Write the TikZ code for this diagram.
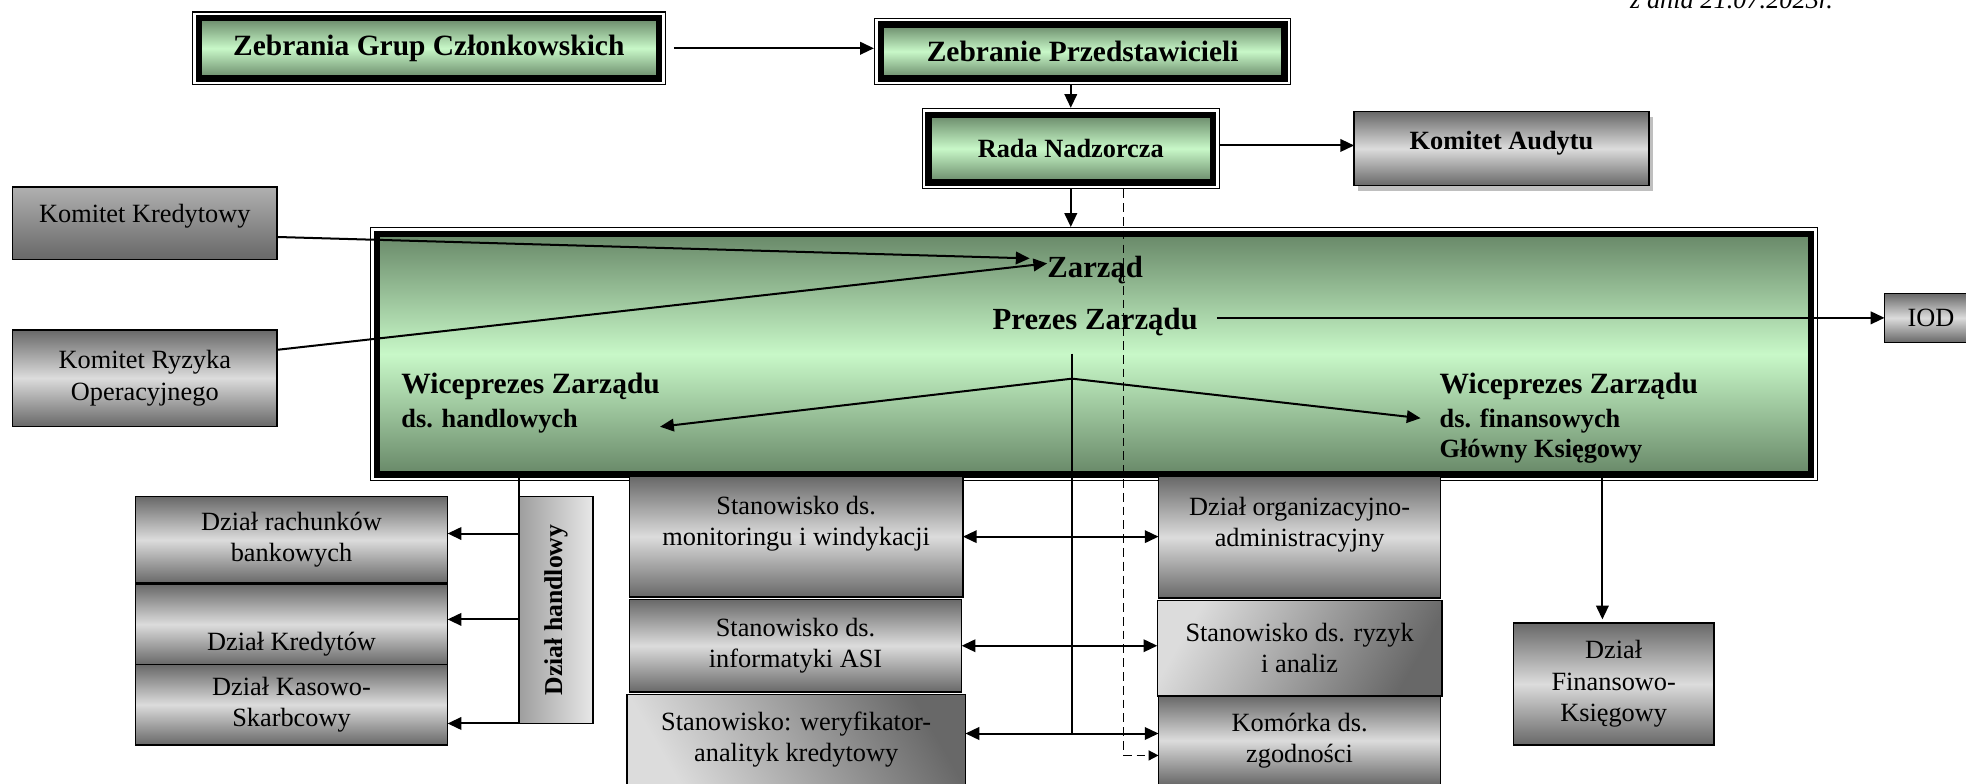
\documentclass[tikz,border=0pt]{standalone}
\usepackage{fontspec}
\setmainfont{Liberation Serif}
\usetikzlibrary{arrows.meta}
\usetikzlibrary{shadows}

\definecolor{gdark}{RGB}{104,136,104}
\definecolor{glight}{RGB}{200,248,200}
\definecolor{sdark}{RGB}{104,104,104}
\definecolor{slight}{RGB}{220,220,220}

\begin{document}
\begin{tikzpicture}[x=1pt,y=-1pt,>={Triangle[length=11pt,width=10pt]},
    zielony/.style={draw,line width=5pt,outer sep=0pt,inner sep=0pt,
        top color=gdark,bottom color=gdark,middle color=glight,
        preaction={draw,line width=11pt},preaction={draw,white,line width=9pt},
        font=\fontsize{23.5}{27}\selectfont\bfseries},
    szary/.style={draw,line width=1.2pt,outer sep=0pt,inner sep=0pt,align=center,
        top color=sdark,bottom color=sdark,middle color=slight,
        font=\fontsize{21}{25}\selectfont},
    napis/.style={inner sep=0pt,font=\fontsize{24.5}{28}\selectfont\bfseries},
    strz/.style={->,line width=1.6pt},
    cienka/.style={line width=1.2pt}]
    \useasboundingbox (0,0) rectangle (1568,625);
    % organy spoldzielni
    \node[zielony,minimum width=367,minimum height=48] (zgc) at (342,38.5) {Zebrania Grup Członkowskich};
    \node[zielony,minimum width=322,minimum height=43] (zp) at (863.5,41) {Zebranie Przedstawicieli};
    \node[zielony,minimum width=227,minimum height=54,font=\fontsize{21}{25}\selectfont\bfseries] (rn) at (854,118.5) {Rada Nadzorcza};
    \node[szary,minimum width=235,minimum height=59,text depth=13.3pt,font=\fontsize{21}{25}\selectfont\bfseries,
        drop shadow={shadow xshift=3pt,shadow yshift=-4pt,fill=black!25,opacity=1}] (ka) at (1197.5,118.5) {Komitet Audytu};
    \node[anchor=base east,inner sep=0pt,font=\fontsize{21}{25}\selectfont\itshape] (data) at (1462,6.5) {z dnia 21.07.2023r.};
    \node[zielony,minimum width=1144,minimum height=192] (zbox) at (872.5,282.5) {};
    \node[szary,top color=slight!80!black,minimum width=211,minimum height=58,text depth=16.3pt] (kk) at (115.5,178) {Komitet Kredytowy};
    \node[szary,minimum width=211,minimum height=77] (kro) at (115.5,301.5) {Komitet Ryzyka\\Operacyjnego};
    \node[szary,anchor=west,minimum width=74,minimum height=39] (iod) at (1503,253.5) {IOD};
    % zarzad
    \node[napis,anchor=base] (zarzad) at (873.5,221) {Zarząd};
    \node[napis,anchor=base] (prezes) at (873.5,263) {Prezes Zarządu};
    \node[napis,anchor=north west,align=left,font=\fontsize{21}{26.5}\selectfont\bfseries] (wph) at (320,297.6)
        {{\fontsize{23.5}{26.5}\selectfont Wiceprezes Zarządu}\\ds. handlowych};
    \node[napis,anchor=north west,align=left,font=\fontsize{21}{24}\selectfont\bfseries] (wpf) at (1148,297.6)
        {{\fontsize{23.5}{26.5}\selectfont Wiceprezes Zarządu}\\[2.5pt]ds. finansowych\\Główny Księgowy};
    % komorki
    \node[szary,minimum width=249,minimum height=69] (rach) at (232.5,430.5) {Dział rachunków\\bankowych};
    \node[szary,minimum width=249,minimum height=64,text height=46.5pt] (kred) at (232.5,498) {Dział Kredytów};
    \node[szary,minimum width=249,minimum height=64] (kas) at (232.5,562) {Dział Kasowo-\\Skarbcowy};
    \node[szary,left color=black!38,right color=black!9,minimum width=59,minimum height=181,
        font=\fontsize{20.5}{25}\selectfont\bfseries] (dh) at (443.5,486.5) {\rotatebox{90}{Dział handlowy}};
    \node[szary,minimum width=266,minimum height=96] (mon) at (635,428) {Stanowisko ds.\\monitoringu i windykacji\\\mbox{}};
    \node[szary,minimum width=265,minimum height=74] (inf) at (634.5,515) {Stanowisko ds.\\informatyki ASI};
    \node[szary,left color=slight,right color=sdark,shading angle=120,minimum width=270,minimum height=72] (wer) at (635,590) {Stanowisko: weryfikator-\\analityk kredytowy};
    \node[szary,minimum width=225,minimum height=97] (org) at (1036.5,428.5) {Dział organizacyjno-\\administracyjny\\\mbox{}};
    \node[szary,left color=slight,right color=sdark,shading angle=60,minimum width=227,minimum height=76] (ryz) at (1036.5,517) {Stanowisko ds. ryzyk\\i analiz};
    \node[szary,minimum width=225,minimum height=71] (kom) at (1036.5,590.5) {Komórka ds.\\zgodności};
    \node[szary,minimum width=160,minimum height=97] (fin) at (1287,545.5) {Dział\\Finansowo-\\Księgowy};
    % polaczenia
    \draw[strz,shorten <=12pt,shorten >=5.5pt] (zgc.east) -- (zgc.east -| zp.west);
    \draw[strz,shorten <=5.5pt,shorten >=5.5pt] (rn.north |- zp.south) -- (rn.north);
    \draw[strz,shorten <=5.5pt] ([yshift=2.5pt]rn.east) -- ([yshift=2.5pt]ka.west);
    \draw[strz,shorten <=5.5pt,shorten >=5.5pt] (rn.south) -- (rn.south |- zbox.north);
    \draw[cienka,dash pattern=on 7pt off 4pt,-{Triangle[length=8pt,width=8pt]},shorten <=5.5pt]
        ([xshift=42pt]rn.south) |- ([yshift=-12pt]kom.west);
    \draw[strz] ([yshift=-11pt]kk.east) -- ([xshift=-14pt,yshift=9pt]zarzad.west);
    \draw[strz] ([yshift=22.5pt]kro.east) -- ([yshift=5pt]zarzad.west);
    \draw[strz,shorten <=15pt] (iod.west -| prezes.east) -- (iod.west);
    \coordinate (apex) at (855,302);
    \coordinate (wbr) at ([yshift=5pt]wer.east);
    \draw[cienka] ([yshift=20pt]apex) -- (apex |- wbr);
    \draw[strz] (apex) -- ([yshift=5pt]wph.south east);
    \draw[strz] (apex) -- ([xshift=-15pt]wpf.west);
    \draw[<->,line width=1.6pt] (mon.east) -- (mon.east -| org.west);
    \draw[<->,line width=1.6pt] (inf.east) -- (inf.east -| ryz.west);
    \draw[<->,line width=1.6pt] (wbr) -- (wbr -| kom.west);
    \draw[cienka] (zbox.south -| dh.west) -- (dh.south west);
    \draw[strz] ([yshift=5pt]dh.west |- rach.east) -- ([yshift=5pt]rach.east);
    \draw[strz] ([yshift=4pt]dh.west |- kred.east) -- ([yshift=4pt]kred.east);
    \draw[strz] (dh.south west) -- (dh.south west -| kas.east);
    \draw[strz,shorten >=3pt] ([xshift=-9pt]fin.north |- zbox.south) -- ([xshift=-9pt]fin.north);
\end{tikzpicture}
\end{document}
